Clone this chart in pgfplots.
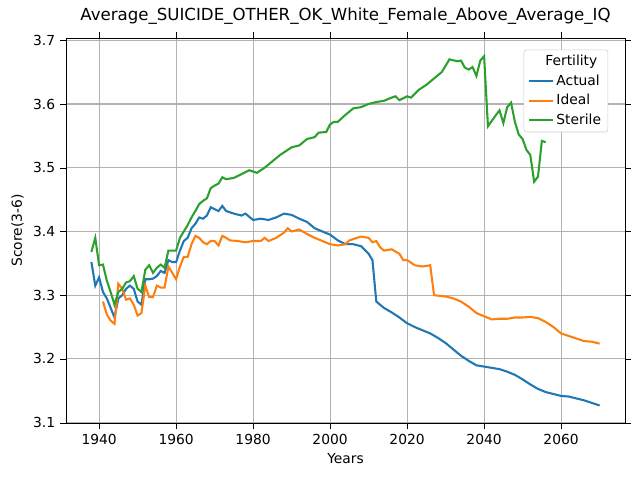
\documentclass[border=0pt]{standalone}
\usepackage{pgfplots}
\pgfplotsset{compat=1.18}
\usepackage{fontspec}
\setmainfont{DejaVu Sans}
\definecolor{c0}{HTML}{1F77B4}
\definecolor{c1}{HTML}{FF7F0E}
\definecolor{c2}{HTML}{2CA02C}
\begin{document}
\begin{tikzpicture}
\useasboundingbox (0,0) rectangle (6.4in,4.8in);
\begin{axis}[at={(0.66in,0.57in)},anchor=south west,scale only axis,
width=5.59in,height=3.85in,
xmin=1931.4,xmax=2076.6,ymin=3.0995,ymax=3.7035,
xtick={1940,1960,...,2060},ytick={3.1,3.2,...,3.7},
yticklabel style={/pgf/number format/fixed,/pgf/number format/fixed zerofill,/pgf/number format/precision=1},
/pgf/number format/assume math mode=true,
/pgf/number format/1000 sep={},
grid=major,grid style={gray!60,line width=0.8pt},
tick style={black},tick align=outside,
tick label style={font=\fontsize{10}{12}\selectfont},
xlabel={Years},ylabel={Score(3-6)},
label style={font=\fontsize{10}{12}\selectfont},
title={Average\_SUICIDE\_OTHER\_OK\_White\_Female\_Above\_Average\_IQ},
title style={font=\fontsize{12}{14}\selectfont},
legend pos=north east,
legend style={font=\fontsize{10}{12}\selectfont,draw=gray!40,rounded corners=2pt,row sep=1pt},
legend cell align=left,
every axis plot/.append style={line width=1.5pt},
]
\addlegendimage{empty legend}
\addlegendentry{\hspace{-0.8em}Fertility}
\addplot[c0] coordinates {(1938,3.352)(1939,3.315)(1940,3.328)(1941,3.305)(1942,3.295)(1943,3.28)(1944,3.265)(1945,3.295)(1946,3.300)(1947,3.31)(1948,3.315)(1949,3.31)(1950,3.29)(1951,3.285)(1952,3.325)(1953,3.325)(1954,3.326)(1955,3.33)(1956,3.338)(1957,3.335)(1958,3.355)(1959,3.352)(1960,3.352)(1961,3.37)(1962,3.385)(1963,3.39)(1964,3.405)(1965,3.412)(1966,3.422)(1967,3.42)(1968,3.425)(1969,3.438)(1970,3.435)(1971,3.432)(1972,3.44)(1973,3.432)(1975,3.428)(1977,3.425)(1978,3.428)(1980,3.418)(1982,3.42)(1984,3.418)(1986,3.422)(1988,3.428)(1990,3.426)(1992,3.42)(1994,3.415)(1996,3.405)(1998,3.4)(2000,3.395)(2002,3.386)(2004,3.38)(2006,3.38)(2008,3.377)(2010,3.365)(2011,3.355)(2012,3.29)(2014,3.28)(2016,3.273)(2018,3.265)(2020,3.256)(2022,3.25)(2024,3.245)(2026,3.24)(2028,3.233)(2030,3.225)(2032,3.215)(2034,3.205)(2036,3.197)(2038,3.19)(2040,3.188)(2042,3.186)(2044,3.184)(2046,3.18)(2048,3.175)(2050,3.168)(2052,3.16)(2054,3.153)(2056,3.148)(2058,3.145)(2060,3.142)(2062,3.141)(2064,3.138)(2066,3.135)(2068,3.131)(2070,3.127)};
\addlegendentry{Actual}
\addplot[c1] coordinates {(1941,3.29)(1942,3.27)(1943,3.26)(1944,3.255)(1945,3.318)(1946,3.31)(1947,3.293)(1948,3.295)(1949,3.285)(1950,3.268)(1951,3.272)(1952,3.315)(1953,3.297)(1954,3.297)(1955,3.315)(1956,3.312)(1957,3.312)(1958,3.345)(1959,3.335)(1960,3.325)(1961,3.345)(1962,3.36)(1963,3.36)(1964,3.38)(1965,3.393)(1966,3.39)(1967,3.383)(1968,3.38)(1969,3.385)(1970,3.385)(1971,3.378)(1972,3.393)(1973,3.39)(1974,3.386)(1976,3.385)(1978,3.383)(1980,3.385)(1982,3.385)(1983,3.39)(1984,3.385)(1986,3.39)(1988,3.398)(1989,3.405)(1990,3.4)(1992,3.403)(1994,3.396)(1996,3.39)(1998,3.385)(2000,3.38)(2002,3.378)(2004,3.38)(2005,3.386)(2006,3.388)(2008,3.392)(2010,3.39)(2011,3.383)(2012,3.385)(2013,3.375)(2014,3.37)(2016,3.372)(2018,3.365)(2019,3.355)(2020,3.355)(2022,3.347)(2024,3.345)(2026,3.347)(2027,3.3)(2030,3.298)(2032,3.295)(2034,3.29)(2036,3.282)(2038,3.272)(2040,3.267)(2042,3.262)(2044,3.263)(2046,3.263)(2048,3.265)(2050,3.265)(2052,3.266)(2054,3.264)(2056,3.258)(2058,3.25)(2060,3.24)(2062,3.236)(2064,3.232)(2066,3.228)(2068,3.227)(2070,3.224)};
\addlegendentry{Ideal}
\addplot[c2] coordinates {(1938,3.368)(1939,3.39)(1940,3.347)(1941,3.348)(1942,3.323)(1943,3.305)(1944,3.285)(1945,3.305)(1946,3.31)(1947,3.32)(1948,3.322)(1949,3.33)(1950,3.31)(1951,3.305)(1952,3.34)(1953,3.347)(1954,3.335)(1955,3.343)(1956,3.348)(1957,3.343)(1958,3.37)(1959,3.37)(1960,3.37)(1961,3.39)(1962,3.4)(1963,3.41)(1964,3.422)(1965,3.432)(1966,3.443)(1967,3.448)(1968,3.452)(1969,3.468)(1970,3.472)(1971,3.475)(1972,3.485)(1973,3.482)(1975,3.484)(1977,3.49)(1979,3.496)(1981,3.492)(1983,3.5)(1985,3.51)(1987,3.52)(1989,3.528)(1990,3.532)(1992,3.535)(1994,3.545)(1996,3.548)(1997,3.555)(1999,3.556)(2000,3.568)(2001,3.572)(2002,3.572)(2004,3.583)(2006,3.593)(2008,3.595)(2010,3.6)(2012,3.603)(2014,3.605)(2016,3.61)(2017,3.612)(2018,3.606)(2020,3.612)(2021,3.61)(2023,3.622)(2025,3.63)(2027,3.64)(2029,3.65)(2031,3.67)(2033,3.667)(2034,3.668)(2035,3.657)(2036,3.654)(2037,3.658)(2038,3.644)(2039,3.668)(2040,3.675)(2041,3.565)(2043,3.582)(2044,3.59)(2045,3.57)(2046,3.595)(2047,3.602)(2048,3.572)(2049,3.552)(2050,3.545)(2051,3.528)(2052,3.52)(2053,3.478)(2054,3.486)(2055,3.542)(2056,3.54)};
\addlegendentry{Sterile}
\end{axis}
\end{tikzpicture}
\end{document}
